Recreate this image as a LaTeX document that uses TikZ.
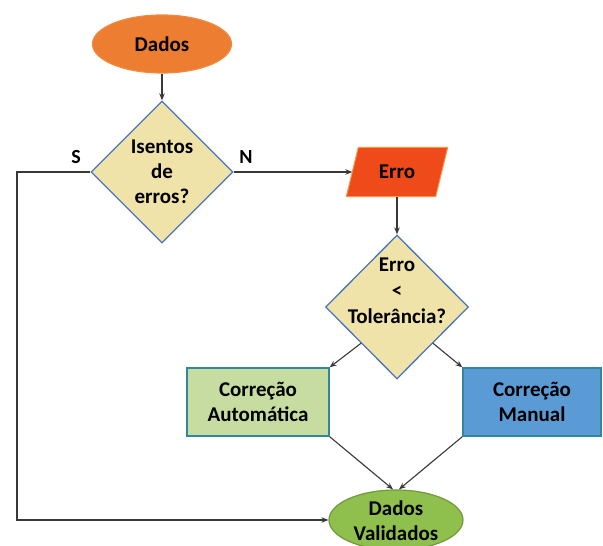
\documentclass[tikz,border=0pt]{standalone}
\usepackage{fontspec}
\setmainfont{Carlito}
\usetikzlibrary{shapes.geometric,arrows.meta}
\definecolor{orangefill}{HTML}{ED7D31}
\definecolor{orangeline}{HTML}{F08A40}
\definecolor{khaki}{HTML}{F0E3A9}
\definecolor{diamline}{HTML}{4A76BD}
\definecolor{errofill}{HTML}{EE4A1A}
\definecolor{erroline}{HTML}{F7964A}
\definecolor{autofill}{HTML}{C6DCA0}
\definecolor{tealline}{HTML}{2F889E}
\definecolor{manualfill}{HTML}{5B9BD5}
\definecolor{validfill}{HTML}{8FBF4C}
\definecolor{validline}{HTML}{6F9A3A}
\definecolor{connline}{HTML}{383838}
\tikzset{
  x=1pt, y=1pt,
  lbl/.style={font=\bfseries\fontsize{21}{25}\selectfont, align=center, inner sep=0pt},
  yn/.style={font=\bfseries\fontsize{20}{22}\selectfont, inner sep=0pt},
  terminal/.style={ellipse, inner sep=0pt, line width=1.2pt},
  decision/.style={diamond, fill=khaki, draw=diamline, line width=1.3pt, inner sep=0pt, minimum width=142pt, minimum height=142pt},
  process/.style={rectangle, fill=autofill, draw=tealline, line width=1.3pt, inner sep=0pt, minimum height=68pt},
  iobox/.style={fill=errofill, draw=erroline, line width=1pt, line join=miter},
  conn/.style={draw=connline, line width=1.1pt, -{Stealth[length=7pt,width=5.5pt]}},
}
\begin{document}
\begin{tikzpicture}
\useasboundingbox (0,0) rectangle (603,546);
\clip (0,0) rectangle (603,546);

% start terminal
\node[terminal, fill=orangefill, draw=orangeline, minimum width=139pt, minimum height=58pt] (dados) at (162,502) {};
\node[lbl] (dadost) at (dados) {Dados};

% first decision
\node[decision] (d1) at (162,374) {};
\node[lbl] (d1t) at (d1) {Isentos\\de\\erros?};
\node[yn] (lbls) at (76,389) {S};
\node[yn] (lbln) at (246,389) {N};

% error input/output: slanted box around an invisible frame
\node[rectangle, minimum width=89pt, minimum height=49pt, inner sep=0pt] (erro) at (397,374) {};
\path[iobox] ([xshift=6pt]erro.north west) -- ([xshift=6pt]erro.north east)
  -- ([xshift=-6pt]erro.south east) -- ([xshift=-6pt]erro.south west) -- cycle;
\node[lbl] (errot) at (erro) {Erro};

% second decision
\node[decision, minimum height=144pt, minimum width=143pt] (d2) at (397,239) {};
\node[lbl] (d2t) at (397,255) {Erro\\[1pt]<\\[1pt]Tolerância?};

% corrections
\node[process, minimum width=142pt] (auto) at (258,144) {};
\node[lbl] (autot) at (auto) {Correção\\Automática};
\node[process, fill=manualfill, minimum width=138pt] (manual) at (532,144) {};
\node[lbl] (manualt) at (manual) {Correção\\Manual};

% end terminal
\node[terminal, fill=validfill, draw=validline, minimum width=134pt, minimum height=60pt] (valid) at (396,26) {};
\node[lbl] (validt) at (396,25) {Dados\\Validados};

% connectors
\coordinate (bend) at (17,374);
\draw[conn] (dados) -- (d1.north);
\draw[conn] (d1.east) -- (erro.west);
\draw[conn] (d1.west) -- (bend) |- (valid.west);
\draw[conn] (erro.south) -- (d2.north);
\draw[conn] (d2.south west) -- (auto.north east);
\draw[conn] (d2.south east) -- (manual.north west);
\draw[conn] (auto.south east) -- ([xshift=-3pt]valid.north);
\draw[conn] (manual.south west) -- ([xshift=3pt]valid.north);
\end{tikzpicture}
\end{document}
